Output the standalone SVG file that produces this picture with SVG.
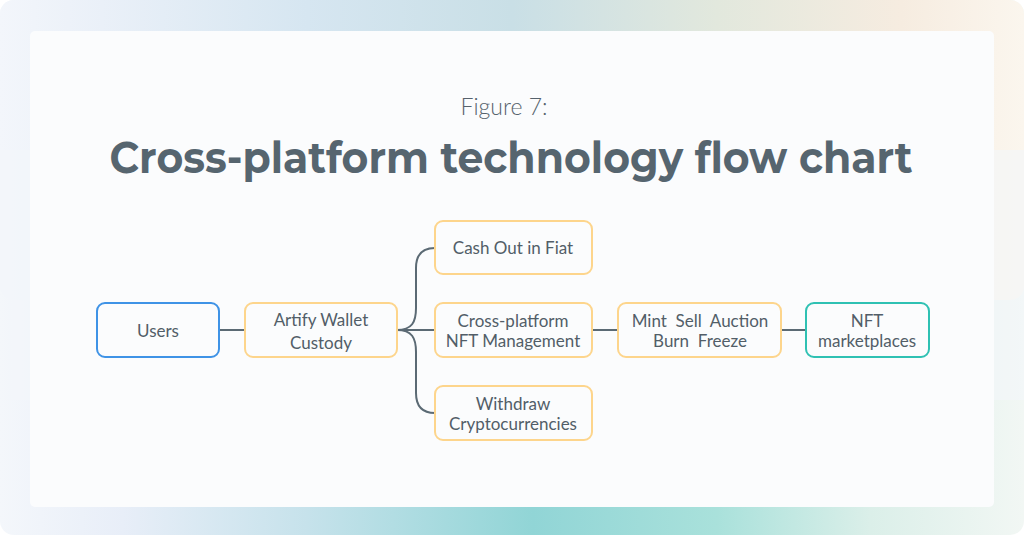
<svg xmlns="http://www.w3.org/2000/svg" width="1024" height="535" viewBox="0 0 1024 535">
<defs>
<linearGradient id="bgTop" x1="0" y1="0" x2="1" y2="0">
<stop offset="0" stop-color="#f3f6fb"/>
<stop offset="0.1" stop-color="#eaf0f8"/>
<stop offset="0.3" stop-color="#d6e6f1"/>
<stop offset="0.5" stop-color="#c9dfe6"/>
<stop offset="0.7" stop-color="#e2e8dd"/>
<stop offset="0.88" stop-color="#f6ece0"/>
<stop offset="1" stop-color="#fbf6ee"/>
</linearGradient>
<linearGradient id="bgBot" x1="0" y1="0" x2="1" y2="0">
<stop offset="0" stop-color="#f4f7fb"/>
<stop offset="0.12" stop-color="#e8eef8"/>
<stop offset="0.3" stop-color="#c6e2eb"/>
<stop offset="0.52" stop-color="#91d5d6"/>
<stop offset="0.7" stop-color="#a9e1db"/>
<stop offset="0.85" stop-color="#dbefe9"/>
<stop offset="1" stop-color="#f2f7f4"/>
</linearGradient>
<style>
.node rect{fill:none;stroke-width:2}
.o rect{stroke:#fdd58c}
.b rect{stroke:#3f93e6}
.t rect{stroke:#2fc1b3}
.node text{font-family:Lato,"Open Sans",sans-serif;font-size:17px;fill:#525e68;text-anchor:middle}
.conn path{fill:none;stroke:#5b6a74;stroke-width:2}
</style>
</defs>
<rect width="1024" height="535" rx="14" fill="url(#bgBot)"/>
<rect width="1024" height="300" rx="14" fill="url(#bgTop)"/>
<rect x="0" y="150" width="1024" height="250" fill="#f4f7fa" opacity="0.6"/>
<rect x="30" y="31" width="964" height="476" rx="5" fill="#fbfcfd"/>
<text x="504" y="115" font-family="Lato,'Open Sans',sans-serif" font-weight="300" font-size="23" fill="#56626c" text-anchor="middle">Figure 7:</text>
<text x="511" y="173" font-family="Montserrat,Inter,'Open Sans',sans-serif" font-weight="700" font-size="44" fill="#56656f" text-anchor="middle" textLength="803" lengthAdjust="spacingAndGlyphs">Cross-platform technology flow chart</text>
<g class="conn">
<path d="M219 330H245"/>
<path d="M397 330H435"/>
<path d="M397 330C412 330 416 322 416 308V268C416 255 422 248 435 248"/>
<path d="M397 330C412 330 416 338 416 352V393C416 406 422 413 435 413"/>
<path d="M592 330H618"/>
<path d="M781 330H806"/>
</g>
<g id="users" class="node b"><rect x="97" y="303" width="122" height="54" rx="8"/><text x="158" y="337">Users</text></g>
<g id="wallet" class="node o"><rect x="245" y="303" width="152" height="54" rx="8"/><text x="321" y="326">Artify Wallet</text><text x="321" y="349">Custody</text></g>
<g id="cashout" class="node o"><rect x="435" y="221" width="157" height="53" rx="8"/><text x="513" y="254">Cash Out in Fiat</text></g>
<g id="nftmgmt" class="node o"><rect x="435" y="303" width="157" height="54" rx="8"/><text x="513" y="327">Cross-platform</text><text x="513" y="347">NFT Management</text></g>
<g id="withdraw" class="node o"><rect x="435" y="386" width="157" height="54" rx="8"/><text x="513" y="410">Withdraw</text><text x="513" y="430">Cryptocurrencies</text></g>
<g id="actions" class="node o"><rect x="618" y="303" width="163" height="54" rx="8"/><text x="700" y="327" xml:space="preserve">Mint  Sell  Auction</text><text x="700" y="347" xml:space="preserve">Burn  Freeze</text></g>
<g id="markets" class="node t"><rect x="806" y="303" width="123" height="54" rx="8"/><text x="867" y="327">NFT</text><text x="867" y="347">marketplaces</text></g>
</svg>
